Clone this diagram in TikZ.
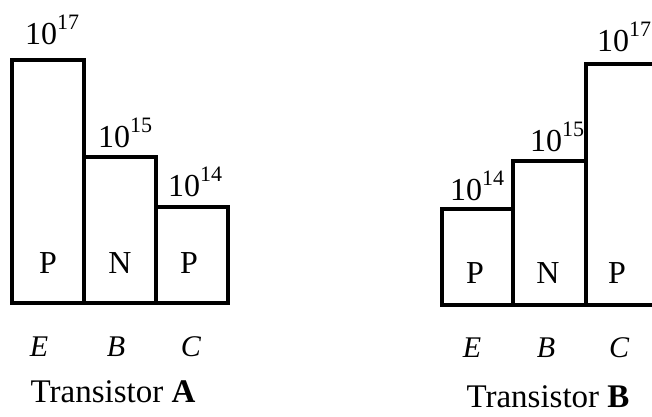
\documentclass[tikz,border=0pt]{standalone}
\usepackage{fontspec}
\setmainfont{Liberation Serif}
\newcommand{\dopexp}[1]{10\raisebox{15pt}{\fontsize{22}{24}\selectfont #1}}
\begin{document}
\begin{tikzpicture}[x=1pt,y=-1pt,
  box/.style={line width=3.2pt, line join=miter},
  conc/.style={font=\fontsize{32}{38}\selectfont, inner sep=0pt, anchor=base west},
  typ/.style={font=\fontsize{32}{36}\selectfont, inner sep=0pt},
  term/.style={font=\fontsize{30}{36}\selectfont\itshape, inner sep=0pt},
  title/.style={font=\fontsize{33}{38}\selectfont, inner sep=0pt}]
\useasboundingbox (0,0) rectangle (652,416);
\begin{scope}
\clip (0,0) rectangle (652,416);
% Transistor A
\draw[box] (12,60) rectangle (84,303);
\draw[box] (84,157) rectangle (156,303);
\draw[box] (156,207) rectangle (228,303);
% Transistor B
\draw[box] (442,209) rectangle (513,305);
\draw[box] (513,161) rectangle (586,305);
\draw[box] (586,64) rectangle (664,305);
\end{scope}
% concentrations A
\node[conc] (cAE) at (25,44) {\dopexp{17}};
\node[conc] (cAB) at (98,147) {\dopexp{15}};
\node[conc] (cAC) at (168,196) {\dopexp{14}};
% concentrations B
\node[conc] (cBE) at (450,200) {\dopexp{14}};
\node[conc] (cBB) at (530,151) {\dopexp{15}};
\node[conc] (cBC) at (597,51) {\dopexp{17}};
% types
\node[typ] (tAE) at (48,263) {P};
\node[typ] (tAB) at (120,263) {N};
\node[typ] (tAC) at (189,263) {P};
\node[typ] (tBE) at (475,273) {P};
\node[typ] (tBB) at (548,273) {N};
\node[typ] (tBC) at (617,273) {P};
% terminals
\node[term] (eA) at (39,347) {E};
\node[term] (bA) at (116,347) {B};
\node[term] (cA) at (191,347) {C};
\node[term] (eB) at (472,348) {E};
\node[term] (bB) at (546,348) {B};
\node[term] (cB) at (619,348) {C};
% titles
\node[title] (titA) at (113,392) {Transistor \textbf{A}};
\node[title] (titB) at (548,397) {Transistor \textbf{B}};
\end{tikzpicture}
\end{document}
